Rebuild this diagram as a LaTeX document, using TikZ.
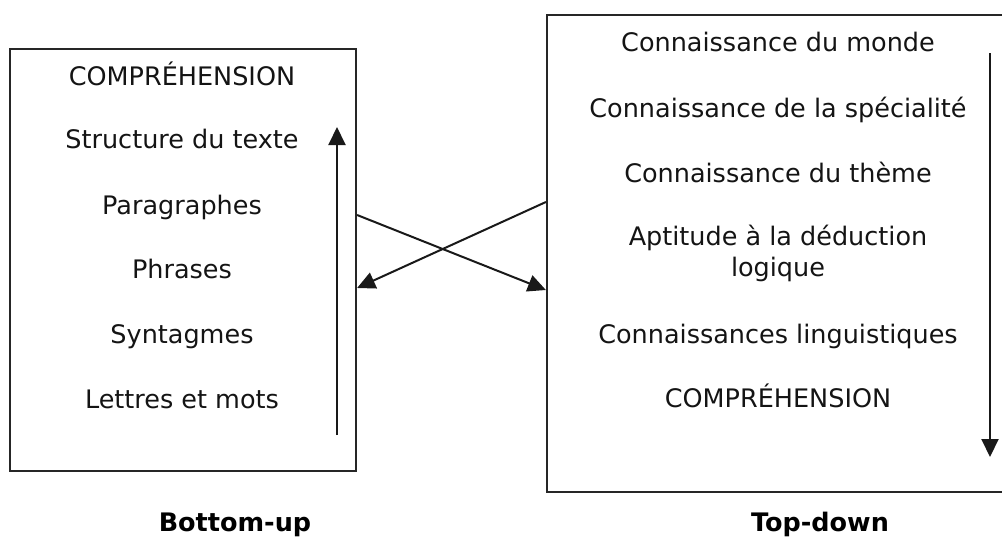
\documentclass[tikz,border=0pt]{standalone}
\usepackage{fontspec}
\setmainfont{DejaVu Sans}
\usetikzlibrary{arrows.meta}
\begin{document}
\begin{tikzpicture}[x=1pt,y=-1pt,
  box/.style={draw=black!85, line width=2.2pt, rectangle, inner sep=0pt},
  txt/.style={font=\fontsize{25.5}{31}\selectfont, anchor=base, text=black!92},
  captxt/.style={font=\fontsize{25.5}{31}\selectfont\bfseries, anchor=base, text=black},
  arr/.style={line width=2pt, draw=black!90, -{Triangle[length=18pt,width=17pt]}}]
\clip (0,0) rectangle (1002,539);
\useasboundingbox (0,0) rectangle (1002,539);
% boxes
\node[box, minimum width=346pt, minimum height=422pt] (lbox) at (183,260) {};
\node[box, minimum width=480pt, minimum height=477pt] (rbox) at (787,253.5) {};
% left texts
\node[txt] (l1) at (182,85) {COMPRÉHENSION};
\node[txt] (l2) at (182,148) {Structure du texte};
\node[txt] (l3) at (182,214) {Paragraphes};
\node[txt] (l4) at (182,278) {Phrases};
\node[txt] (l5) at (182,343) {Syntagmes};
\node[txt] (l6) at (182,408) {Lettres et mots};
% right texts
\node[txt] (r1) at (778,51) {Connaissance du monde};
\node[txt] (r2) at (778,117) {Connaissance de la spécialité};
\node[txt] (r3) at (778,182) {Connaissance du thème};
\node[txt, anchor=center, align=center] (r4) at (778,253) {Aptitude à la déduction\\logique};
\node[txt] (r5) at (778,343) {Connaissances linguistiques};
\node[txt] (r6) at (778,407) {COMPRÉHENSION};
% captions
\node[captxt] (bu) at (235,531) {Bottom-up};
\node[captxt] (td) at (820,531) {Top-down};
% arrows
\coordinate (la0) at (337,435);
\coordinate (la1) at (337,127);
\coordinate (ra0) at (990,53);
\coordinate (ra1) at (990,457);
\draw[arr] (la0) -- (la1);
\draw[arr] (ra0) -- (ra1);
\coordinate (x1a) at (lbox.east |- 0,215);
\coordinate (x1b) at (rbox.west |- 0,290);
\coordinate (x2a) at (rbox.west |- 0,202);
\coordinate (x2b) at (lbox.east |- 0,288);
\draw[arr] (x1a) -- (x1b);
\draw[arr] (x2a) -- (x2b);
\end{tikzpicture}
\end{document}
